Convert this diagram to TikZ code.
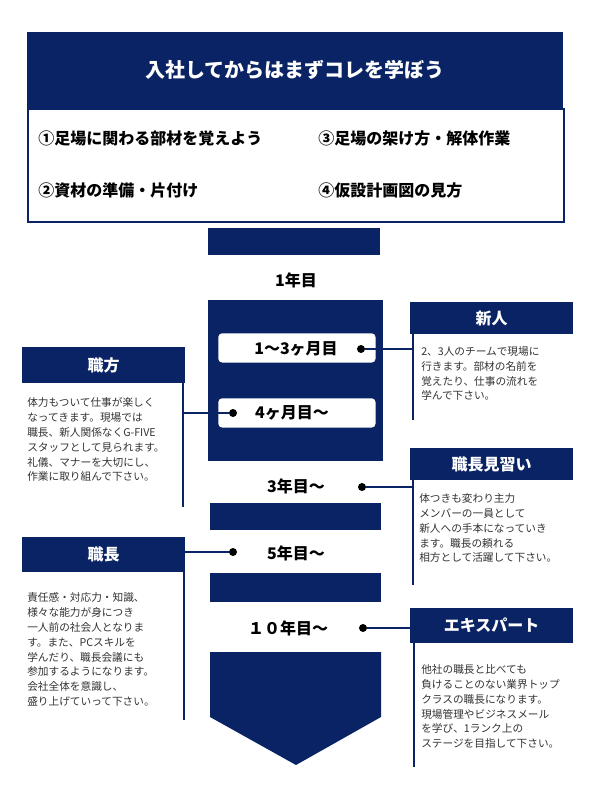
\documentclass[tikz,border=0pt]{standalone}
\usepackage{fontspec}
\setmainfont{Noto Sans CJK JP}
\newfontfamily\jpb{Noto Sans CJK JP}[BoldFont={* Bold}]
\definecolor{navy}{RGB}{10,35,100}
\definecolor{bodytext}{RGB}{50,50,50}
\begin{document}
\begin{tikzpicture}[x=0.75pt,y=-0.75pt,
  bar/.style={fill=navy,draw=none},
  hdr/.style={fill=navy,text=white,font=\fontsize{12}{14}\selectfont\bfseries,inner sep=0,minimum height=24pt,minimum width=122pt,anchor=north west},
  body/.style={text=bodytext,font=\fontsize{8}{11.2}\selectfont,align=left,anchor=north west,inner sep=0},
  yr/.style={font=\fontsize{12}{14}\selectfont\bfseries,inner sep=0},
  item/.style={font=\fontsize{12}{14}\selectfont\bfseries,anchor=west,inner sep=0},
  lnk/.style={navy,line width=1.5pt},
  dot/.style={circle,fill=black,inner sep=0,minimum size=6pt}]
\useasboundingbox (0,0) rectangle (600,800);
% header
\node[fill=navy,text=white,minimum width=402pt,minimum height=57pt,anchor=north west,inner sep=0,font=\fontsize{15}{18}\selectfont\bfseries] (title) at (27,32) {入社してからはまずコレを学ぼう};
\node[draw=navy,line width=1.2pt,minimum width=402pt,minimum height=85pt,anchor=north west,inner sep=0] (list) at (27,108) {};
\node[item] (i1) at (38,138) {①足場に関わる部材を覚えよう};
\node[item] (i3) at (318,138) {③足場の架け方・解体作業};
\node[item] (i2) at (38,190) {②資材の準備・片付け};
\node[item] (i4) at (318,190) {④仮設計画図の見方};
% central column
\fill[bar] (208,228) rectangle (380,255);
\node[yr] (y1) at (296,280) {1年目};
\fill[bar] (208,300) rectangle (383,461);
\node[fill=white,rounded corners=3pt,minimum width=118pt,minimum height=22pt,anchor=north west,inner sep=0] (m13) at (218,333) {};
\node[yr] at (296,349) {1～3ヶ月目};
\node[dot] (d1) at (361,349) {};
\node[fill=white,rounded corners=3pt,minimum width=118pt,minimum height=22pt,anchor=north west,inner sep=0] (m4) at (218,398) {};
\node[yr] at (292,413) {4ヶ月目～};
\node[dot] (d2) at (233,413) {};
\node[yr] (y3) at (296,486) {3年目～};
\node[dot] (d3) at (362,487) {};
\fill[bar] (210,503) rectangle (381,530);
\node[yr] (y5) at (296,553) {5年目～};
\node[dot] (d4) at (233,552) {};
\fill[bar] (210,573) rectangle (381,602);
\node[yr] (y10) at (288,628) {１０年目～};
\node[dot] (d5) at (363,628) {};
\fill[bar] (210,652) -- (381,652) -- (381,717) -- (296,765) -- (210,717) -- cycle;
% right panels
\node[hdr] (h1) at (410,302) {新人};
\coordinate (v1) at (413,333); \coordinate (v1e) at (413,420);
\draw[lnk] (v1) -- (v1e);
\draw[lnk] (d1) -- (413,349);
\node[body] (t1) at (421,346) {2、3人のチームで現場に\\行きます。部材の名前を\\覚えたり、仕事の流れを\\学んで下さい。};
\node[hdr] (h2) at (410,448) {職長見習い};
\coordinate (v2) at (413,480); \coordinate (v2e) at (413,585);
\draw[lnk] (v2) -- (v2e);
\draw[lnk] (d3) -- (413,487);
\node[body] (t2) at (419,493) {体つきも変わり主力\\メンバーの一員として\\新人への手本になっていき\\ます。職長の頼れる\\相方として活躍して下さい。};
\node[hdr,minimum height=26pt] (h3) at (410,608) {エキスパート};
\coordinate (v3) at (414,643); \coordinate (v3e) at (414,767);
\draw[lnk] (v3) -- (v3e);
\draw[lnk] (d5) -- (414,628);
\node[body] (t3) at (421,664) {他社の職長と比べても\\負けることのない業界トップ\\クラスの職長になります。\\現場管理やビジネスメール\\を学び、1ランク上の\\ステージを目指して下さい。};
% left panels
\node[hdr,minimum width=122pt,minimum height=27pt] (h4) at (22,347) {職方};
\coordinate (v4) at (183,374); \coordinate (v4e) at (183,507);
\draw[lnk] (v4) -- (v4e);
\draw[lnk] (d2) -- (183,413);
\node[body] (t4) at (27,397) {体力もついて仕事が楽しく\\なってきます。現場では\\職長、新人関係なくG-FIVE\\スタッフとして見られます。\\礼儀、マナーを大切にし、\\作業に取り組んで下さい。};
\node[hdr,minimum height=26pt] (h5) at (22,537) {職長};
\coordinate (v5) at (184,571); \coordinate (v5e) at (184,720);
\draw[lnk] (v5) -- (v5e);
\draw[lnk] (d4) -- (184,552);
\node[body] (t5) at (27,592) {責任感・対応力・知識、\\様々な能力が身につき\\一人前の社会人となりま\\す。また、PCスキルを\\学んだり、職長会議にも\\参加するようになります。\\会社全体を意識し、\\盛り上げていって下さい。};
\end{tikzpicture}
\end{document}
